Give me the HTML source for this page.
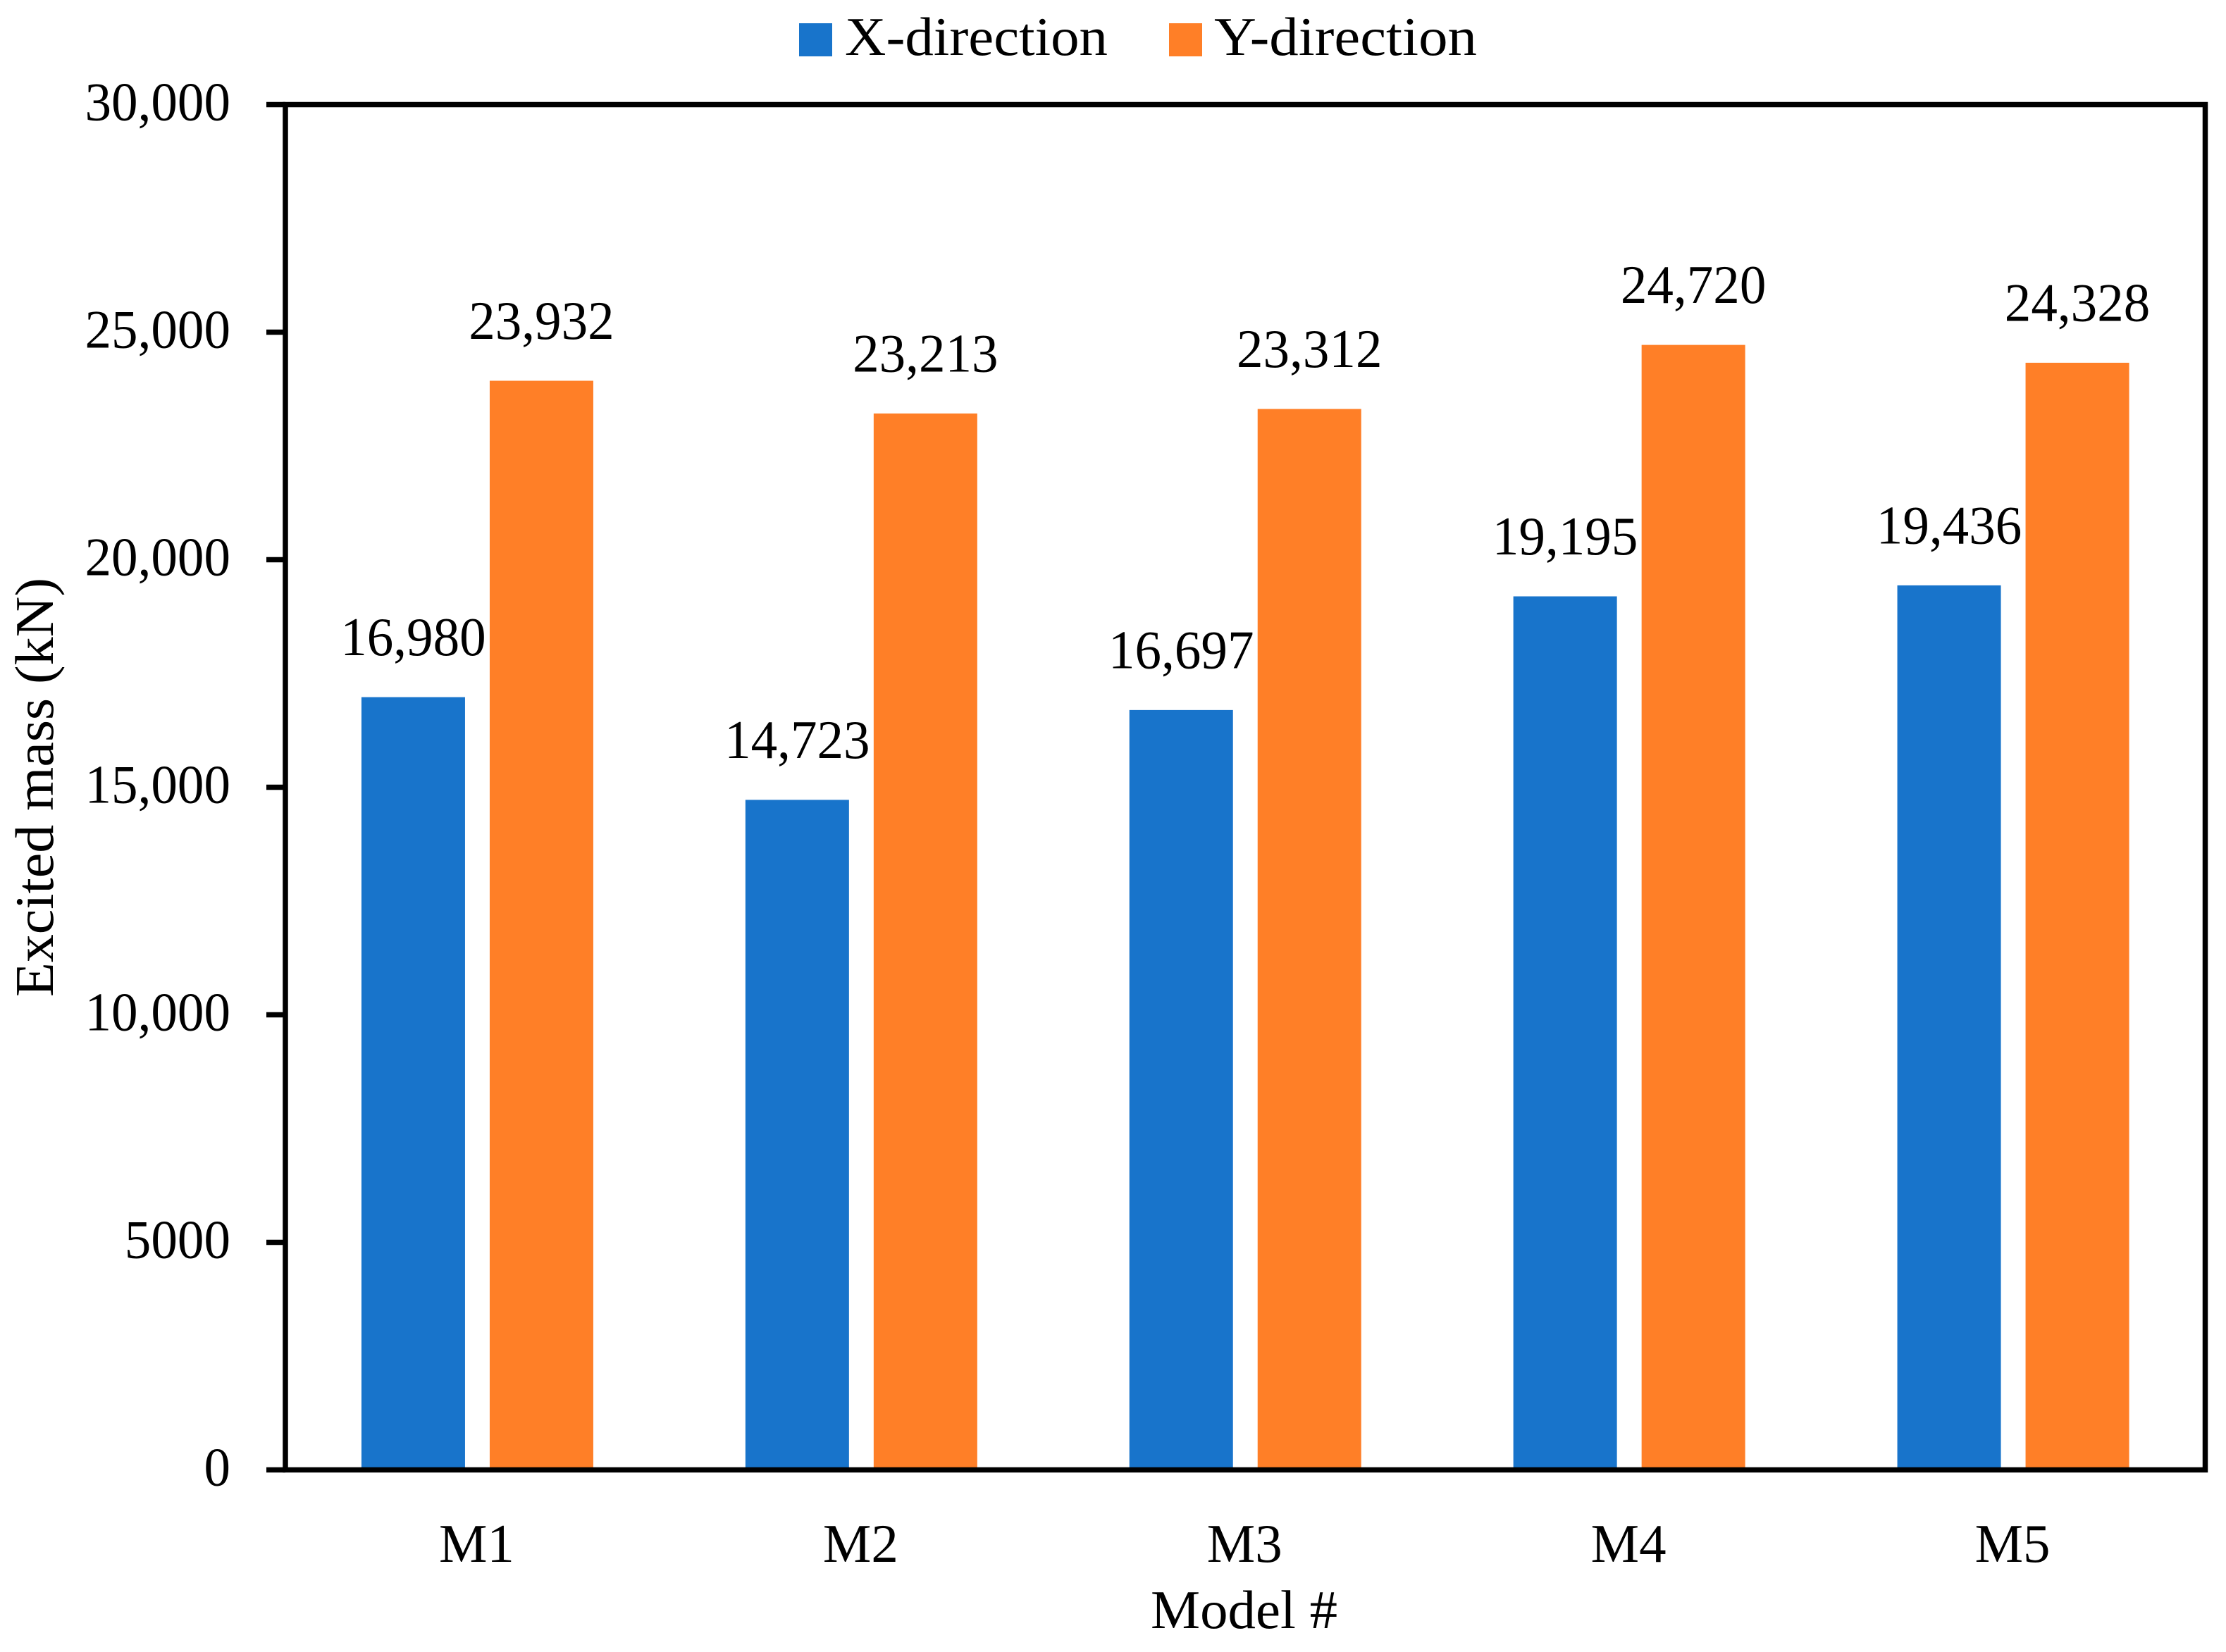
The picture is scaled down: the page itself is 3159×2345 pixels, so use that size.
<!DOCTYPE html>
<html lang="en">
<head>
<meta charset="utf-8">
<title>Excited mass by model</title>
<style>
html,body{margin:0;padding:0;background:#fff;}
svg{display:block;}
text{font-family:"Liberation Serif",serif;font-size:77px;fill:#000;}
</style>
</head>
<body>
<svg id="chart" xmlns="http://www.w3.org/2000/svg" width="3159" height="2345" viewBox="0 0 3159 2345">
  <rect x="0" y="0" width="3159" height="2345" fill="#fff"/>
  <g id="bars"></g>
  <g id="ticks"></g>
  <rect x="405" y="148.5" width="2724.5" height="1938" fill="none" stroke="#000" stroke-width="7.5"/>
  <g id="labels"></g>
  <g id="legend"></g>
  <text transform="translate(75,1117.5) rotate(-90)" text-anchor="middle" textLength="595" lengthAdjust="spacingAndGlyphs">Excited mass (kN)</text>
  <text x="1765.5" y="2311" text-anchor="middle" textLength="265" lengthAdjust="spacingAndGlyphs">Model #</text>
</svg>
<script>
const categories = ['M1', 'M2', 'M3', 'M4', 'M5'];
const seriesNames = ['X-direction', 'Y-direction'];
const xDirection = [16980, 14723, 16697, 19195, 19436];
const yDirection = [23932, 23213, 23312, 24720, 24328];
const tickValues = [0, 5000, 10000, 15000, 20000, 25000, 30000];
const tickLabels = ['0', '5000', '10,000', '15,000', '20,000', '25,000', '30,000'];

const NS = 'http://www.w3.org/2000/svg';
const plotLeft = 405, plotRight = 3129.5, plotTop = 148.5, plotBottom = 2086.5;
const yMax = 30000;
const colors = ['#1874cb', '#ff7f27'];
const barWidth = 147, barOffset = 91;
const digitScale = 0.975;

function yScale(v) { return plotBottom - v / yMax * (plotBottom - plotTop); }
function xCenter(i) { return plotLeft + (i + 0.5) * (plotRight - plotLeft) / categories.length; }
function fit(t, k) {
  const w = t.getComputedTextLength();
  t.setAttribute('textLength', (w * k).toFixed(1));
  t.setAttribute('lengthAdjust', 'spacingAndGlyphs');
}
function makeText(parent, str, x, y, anchor) {
  const t = document.createElementNS(NS, 'text');
  t.setAttribute('x', x);
  t.setAttribute('y', y);
  t.setAttribute('text-anchor', anchor);
  t.textContent = str;
  parent.appendChild(t);
  return t;
}
function makeRect(parent, x, y, w, h, fill) {
  const r = document.createElementNS(NS, 'rect');
  r.setAttribute('x', x);
  r.setAttribute('y', y);
  r.setAttribute('width', w);
  r.setAttribute('height', h);
  r.setAttribute('fill', fill);
  parent.appendChild(r);
  return r;
}

const barsG = document.getElementById('bars');
const labelsG = document.getElementById('labels');
const ticksG = document.getElementById('ticks');
const legendG = document.getElementById('legend');

const allSeries = [xDirection, yDirection];
allSeries.forEach(function (vals, s) {
  vals.forEach(function (v, i) {
    const cx = xCenter(i) + (s === 0 ? -barOffset : barOffset);
    const top = yScale(v);
    const bar = makeRect(barsG, cx - barWidth / 2, top, barWidth, plotBottom - top, colors[s]);
    
    
    const lab = makeText(labelsG, v.toLocaleString('en-US'), cx, top - 59.5, 'middle');
    
    
    fit(lab, digitScale);
  });
});

tickValues.forEach(function (v, i) {
  const y = yScale(v);
  const mark = makeRect(ticksG, 378, y - 3.75, plotLeft - 378, 7.5, '#000');
  
  
  const t = makeText(labelsG, tickLabels[i], 327, y + 22, 'end');
  
  
  fit(t, digitScale);
});

categories.forEach(function (c, i) {
  const t = makeText(labelsG, c, xCenter(i) - 1, 2217, 'middle');
  
  
});

const legendSwatchX = [1134, 1659];
const legendTextX = [1199, 1723];
seriesNames.forEach(function (n, s) {
  const sw = makeRect(legendG, legendSwatchX[s], 33, 47, 47, colors[s]);
  
  
  const t = makeText(legendG, n, legendTextX[s], 78, 'start');
  
  
  t.setAttribute('textLength', '373');
  t.setAttribute('lengthAdjust', 'spacingAndGlyphs');
});
</script>
</body>
</html>
